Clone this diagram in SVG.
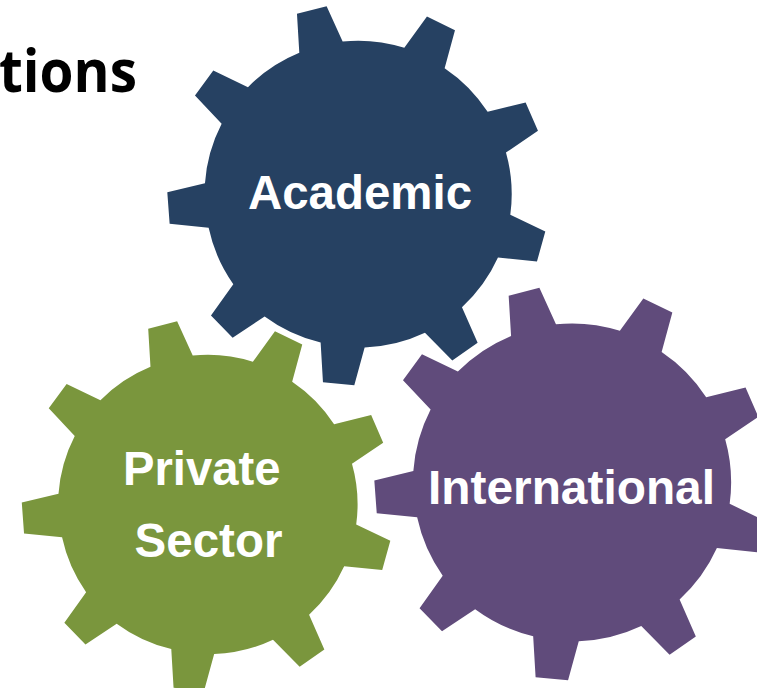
<svg xmlns="http://www.w3.org/2000/svg" width="757" height="688" viewBox="0 0 757 688">
<style>
.label{font-family:"Liberation Sans",Arial,sans-serif;font-weight:700;font-size:47.5px;fill:#fff}
.title{font-family:"Open Sans","Liberation Sans",sans-serif;font-weight:700;font-size:59px;fill:#000}
</style>
<defs>
<path id="gear" d="M-61.33-180.67L-31.67-188.33L-15.67-153A153.5 153.5 0 0 1 46-146.67L68.67-178L96.67-164.33L86.33-126.33A153.5 153.5 0 0 1 129.33-82.67L167.33-92L179.67-63.67L147.67-42A153.5 153.5 0 0 1 152 20.33L187 37L178.67 67L139.67 63A153.5 153.5 0 0 1 103.67 112.67L119.33 148.33L94 166L66.67 138.33A153.5 153.5 0 0 1 6.33 153L-4 190.67L-35.33 187.67L-37.67 148A153.5 153.5 0 0 1-93.67 122L-125.67 143.33L-147.33 121L-125 89.67A153.5 153.5 0 0 1-149.67 33.33L-188.67 29.33L-191-2.33L-153.33-11.33A153.5 153.5 0 0 1-136.67-70.67L-163.33-99L-145-124L-110.33-107.33A153.5 153.5 0 0 1-59-141.67Z"/>
</defs>
<rect width="757" height="688" fill="#fff"/>
<text class="title" x="-1" y="92" textLength="138" lengthAdjust="spacingAndGlyphs">tions</text>
<g id="academic">
<use href="#gear" transform="translate(358.3 194.5)" fill="#264162"/>
<text class="label" x="248" y="209" textLength="224" lengthAdjust="spacingAndGlyphs">Academic</text>
</g>
<g id="private-sector">
<use href="#gear" transform="translate(208 504.8) scale(.975)" fill="#7a963d"/>
<text class="label" x="123" y="485" textLength="157.5" lengthAdjust="spacingAndGlyphs">Private</text>
<text class="label" x="134.5" y="556.7" textLength="148" lengthAdjust="spacingAndGlyphs">Sector</text>
</g>
<g id="international">
<use href="#gear" transform="translate(572.2 482.8) scale(1.036)" fill="#604b7b"/>
<text class="label" x="428" y="504" textLength="287" lengthAdjust="spacingAndGlyphs">International</text>
</g>
<g id="connectors"/>
</svg>
